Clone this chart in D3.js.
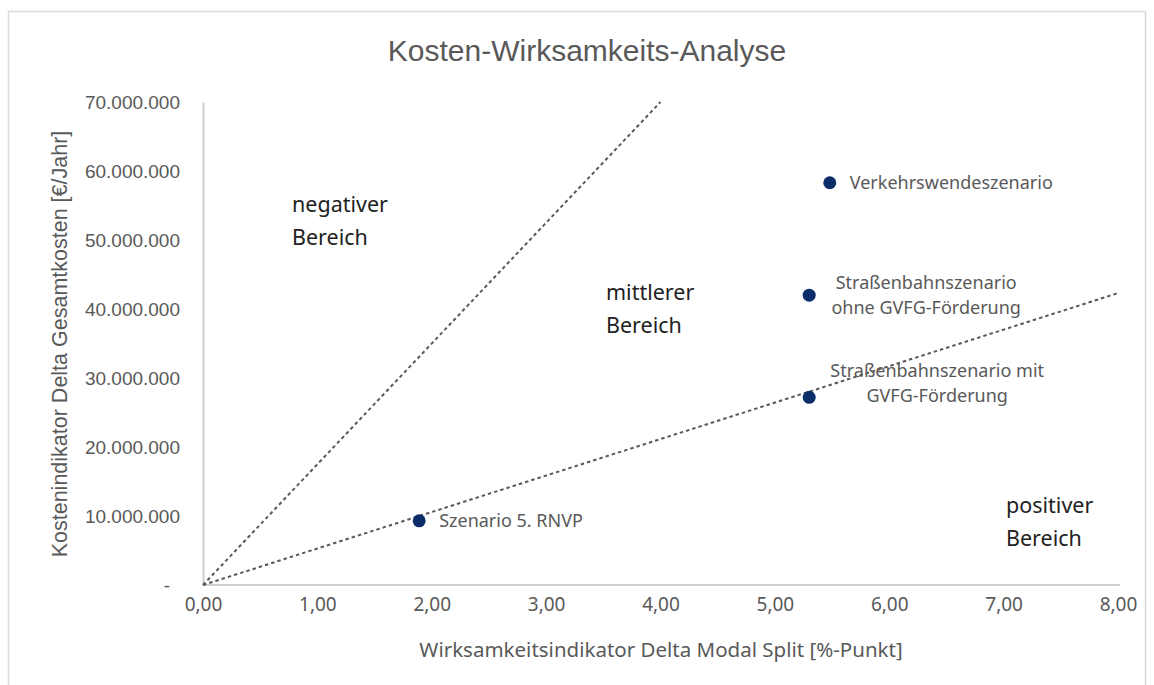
<!DOCTYPE html>
<html>
<head>
  <meta charset="utf-8">
  <title>Kosten-Wirksamkeits-Analyse</title>
  <script src="https://d3js.org/d3.v7.min.js"></script>
  <style>
    body { margin: 0; background: #fff; }
    svg { display: block; }
    .tick text { fill: #595959; }
  </style>
</head>
<body>
  <svg width="1154" height="685"></svg>
  <script>
    // Scenario points (x = Delta Modal Split in %-Punkt, y = Delta Gesamtkosten in €/Jahr)
    const scenarioNames = ["Szenario 5. RNVP", "Straßenbahnszenario mit GVFG-Förderung",
                           "Straßenbahnszenario ohne GVFG-Förderung", "Verkehrswendeszenario"];
    const scenarioX = [1.89, 5.30, 5.30, 5.48];
    const scenarioY = [9300000, 27200000, 42000000, 58300000];

    // Boundary lines from origin
    const boundaryEndX = [4, 8];
    const boundaryEndY = [70000000, 42300000];

    const xTicks = [0, 1, 2, 3, 4, 5, 6, 7, 8];
    const yTicks = [0, 10000000, 20000000, 30000000, 40000000, 50000000, 60000000, 70000000];

    const de = d3.formatLocale({ decimal: ",", thousands: ".", grouping: [3], currency: ["", " €"] });
    const fmtX = de.format(".2f");
    const fmtY = de.format(",.0f");

    const svg = d3.select("svg");
    const sansA = "'Liberation Sans', Arial, sans-serif";
    const sansB = "'Noto Sans', 'Open Sans', sans-serif";

    // outer frame
    svg.append("rect").attr("x", 8.5).attr("y", 11.5).attr("width", 1137).attr("height", 700)
      .attr("fill", "none").attr("stroke", "#d9d9d9").attr("stroke-width", 1.5);

    const x = d3.scaleLinear().domain([0, 8]).range([203, 1118]);
    const y = d3.scaleLinear().domain([0, 70000000]).range([585, 102]);

    // title
    svg.append("text").attr("x", 587).attr("y", 61).attr("text-anchor", "middle")
      .attr("font-family", sansA).attr("font-size", 30).attr("fill", "#595959")
      .text("Kosten-Wirksamkeits-Analyse");

    // y axis
    const yAxis = svg.append("g").attr("transform", "translate(203,0)")
      .call(d3.axisLeft(y).tickValues(yTicks).tickSize(0).tickPadding(23)
        .tickFormat(d => d === 0 ? "-" : fmtY(d)));
    yAxis.select(".domain").attr("stroke", "#d0d0d0").attr("stroke-width", 2);
    yAxis.selectAll("text").attr("font-family", sansA).attr("font-size", 19);
    yAxis.selectAll(".tick text").filter(d => d === 0).attr("dx", -10);

    // x axis
    const xAxis = svg.append("g").attr("transform", "translate(0,585)")
      .call(d3.axisBottom(x).tickValues(xTicks).tickSize(0).tickPadding(13).tickFormat(fmtX));
    xAxis.select(".domain").attr("stroke", "#d0d0d0").attr("stroke-width", 2)
      .attr("d", `M${x(0)},0H1120`);
    xAxis.selectAll("text").attr("font-family", sansB).attr("font-size", 19);

    // axis titles
    svg.append("text").attr("transform", "translate(67,344) rotate(-90)")
      .attr("text-anchor", "middle").attr("font-family", sansA).attr("font-size", 21.5)
      .attr("fill", "#595959").text("Kostenindikator Delta Gesamtkosten [€/Jahr]");
    svg.append("text").attr("x", 661).attr("y", 657).attr("text-anchor", "middle")
      .attr("font-family", sansB).attr("font-size", 20.5).attr("fill", "#595959")
      .text("Wirksamkeitsindikator Delta Modal Split [%-Punkt]");

    // dashed boundary lines
    boundaryEndX.forEach((bx, i) => {
      svg.append("line")
        .attr("x1", x(0)).attr("y1", y(0))
        .attr("x2", x(bx)).attr("y2", y(boundaryEndY[i]))
        .attr("stroke", "#595959").attr("stroke-width", 2)
        .attr("stroke-dasharray", "3.5,3");
    });

    // region labels
    const regions = [
      { lines: ["negativer", "Bereich"], x: 292, y: 212 },
      { lines: ["mittlerer", "Bereich"], x: 606, y: 300 },
      { lines: ["positiver", "Bereich"], x: 1006, y: 513 }
    ];
    regions.forEach(r => {
      const t = svg.append("text").attr("font-family", sansB).attr("font-size", 21.5).attr("fill", "#222");
      r.lines.forEach((l, j) => t.append("tspan").attr("x", r.x).attr("y", r.y + j * 33).text(l));
    });

    // points
    svg.selectAll("circle.pt").data(scenarioX).join("circle").attr("class", "pt")
      .attr("cx", (d, i) => x(d)).attr("cy", (d, i) => y(scenarioY[i]))
      .attr("r", 6.5).attr("fill", "#0b2e6b");

    // point labels
    const labelSpecs = [
      { lines: ["Szenario 5. RNVP"], anchor: "start", dx: 20, dy: 6 },
      { lines: ["Straßenbahnszenario mit", "GVFG-Förderung"], anchor: "middle", dx: 128, dy: -20 },
      { lines: ["Straßenbahnszenario", "ohne GVFG-Förderung"], anchor: "middle", dx: 117, dy: -6 },
      { lines: ["Verkehrswendeszenario"], anchor: "start", dx: 20, dy: 6 }
    ];
    labelSpecs.forEach((s, i) => {
      const px = x(scenarioX[i]), py = y(scenarioY[i]);
      const t = svg.append("text").attr("font-family", sansB).attr("font-size", 18)
        .attr("fill", "#595959").attr("text-anchor", s.anchor);
      s.lines.forEach((l, j) => t.append("tspan").attr("x", px + s.dx).attr("y", py + s.dy + j * 25).text(l));
    });
  </script>
</body>
</html>
